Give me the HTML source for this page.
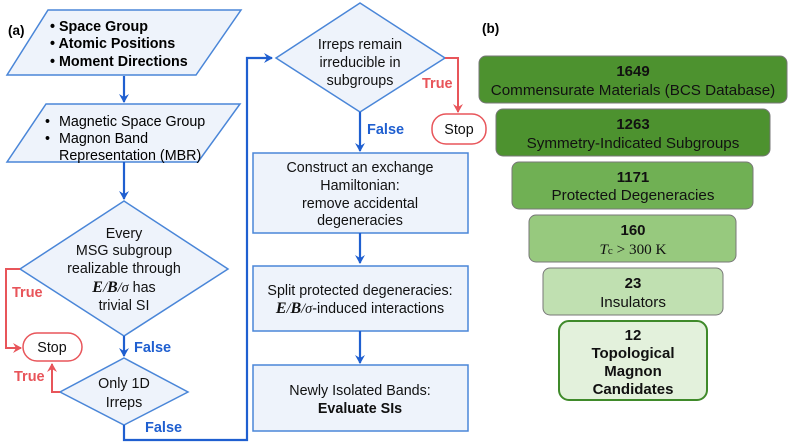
<!DOCTYPE html>
<html><head><meta charset="utf-8"><style>
html,body{margin:0;padding:0;background:#fff;}
svg{display:block;font-family:"Liberation Sans",sans-serif;}
.b{fill:#eef3fb;stroke:#4a86d8;stroke-width:1.5;}
.t{font-size:14.3px;fill:#111;text-anchor:middle;}
.ln{fill:none;stroke:#1f5fd0;stroke-width:2.2;}
.rl{fill:none;stroke:#e8555a;stroke-width:2;}
.bl{font-weight:bold;fill:#1f5fd0;font-size:14.5px;}
.rd{font-weight:bold;fill:#e8555a;font-size:14.5px;}
.g{font-size:15.2px;fill:#111;text-anchor:middle;}
.gb{font-size:15px;fill:#111;text-anchor:middle;font-weight:bold;}
</style></head><body>
<svg width="789" height="444" viewBox="0 0 789 444">
<defs>
<marker id="ab" markerWidth="10" markerHeight="10" refX="8" refY="5" orient="auto" markerUnits="userSpaceOnUse"><path d="M0,0 L9,5 L0,10 L3,5 z" fill="#1f5fd0"/></marker>
<marker id="ar" markerWidth="10" markerHeight="10" refX="8" refY="5" orient="auto" markerUnits="userSpaceOnUse"><path d="M0,0 L9,5 L0,10 L3,5 z" fill="#e8555a"/></marker>
</defs>
<text x="8" y="35" font-weight="bold" font-size="13.5">(a)</text>
<polygon class="b" points="48,10 241,10 196,75 7,75"/>
<text x="50" y="31" font-size="14.3" font-weight="bold">• Space Group</text>
<text x="50" y="48" font-size="14.3" font-weight="bold">• Atomic Positions</text>
<text x="50" y="66" font-size="14.3" font-weight="bold">• Moment Directions</text>
<line class="ln" x1="124" y1="76" x2="124" y2="102" marker-end="url(#ab)"/>
<polygon class="b" points="46,104 240,104 198,162 7,162"/>
<text x="45" y="126" font-size="14.3">•</text><text x="59" y="126" font-size="14.3">Magnetic Space Group</text>
<text x="45" y="143" font-size="14.3">•</text><text x="59" y="143" font-size="14.3">Magnon Band</text>
<text x="59" y="160" font-size="14.3">Representation (MBR)</text>
<line class="ln" x1="124" y1="162" x2="124" y2="199" marker-end="url(#ab)"/>
<polygon class="b" points="124,201 228,269 124,336 20,269"/>
<text class="t" x="124" y="238">Every</text>
<text class="t" x="124" y="255">MSG subgroup</text>
<text class="t" x="124" y="273">realizable through</text>
<text class="t" x="124" y="292"><tspan font-family="Liberation Serif" font-style="italic" font-weight="bold" font-size="16">E</tspan><tspan font-family="Liberation Serif" font-style="italic">/</tspan><tspan font-family="Liberation Serif" font-style="italic" font-weight="bold" font-size="16">B</tspan><tspan font-family="Liberation Serif" font-style="italic">/σ</tspan> has</text>
<text class="t" x="124" y="310">trivial SI</text>
<polyline class="rl" points="20,269 6,269 6,348 21,348" marker-end="url(#ar)"/>
<text class="rd" x="12" y="297">True</text>
<rect x="23" y="333" width="59" height="28" rx="14" fill="#fff" stroke="#e8555a" stroke-width="1.5"/>
<text class="t" x="52" y="352">Stop</text>
<line class="ln" x1="124" y1="336" x2="124" y2="356" marker-end="url(#ab)"/>
<text class="bl" x="134" y="352">False</text>
<polygon class="b" points="124,358 188,392 124,425 60,392"/>
<text class="t" x="124" y="388">Only 1D</text>
<text class="t" x="124" y="407">Irreps</text>
<polyline class="rl" points="60,392 52,392 52,364" marker-end="url(#ar)"/>
<text class="rd" x="14" y="381">True</text>
<polyline class="ln" points="124,425 124,440 247,440 247,58 272,58" marker-end="url(#ab)"/>
<text class="bl" x="145" y="432">False</text>
<polygon class="b" points="360,3 445,58 360,112 276,58"/>
<text class="t" x="360" y="49">Irreps remain</text>
<text class="t" x="360" y="67">irreducible in</text>
<text class="t" x="360" y="85">subgroups</text>
<polyline class="rl" points="445,58 458,58 458,112" marker-end="url(#ar)"/>
<text class="rd" x="422" y="88">True</text>
<rect x="432" y="114" width="54" height="30" rx="14" fill="#fff" stroke="#e8555a" stroke-width="1.5"/>
<text class="t" x="459" y="134">Stop</text>
<line class="ln" x1="360" y1="112" x2="360" y2="151" marker-end="url(#ab)"/>
<text class="bl" x="367" y="134">False</text>
<rect class="b" x="253" y="153" width="215" height="80"/>
<text class="t" x="360" y="172">Construct an exchange</text>
<text class="t" x="360" y="190">Hamiltonian:</text>
<text class="t" x="360" y="208">remove accidental</text>
<text class="t" x="360" y="225">degeneracies</text>
<line class="ln" x1="360" y1="233" x2="360" y2="263" marker-end="url(#ab)"/>
<rect class="b" x="253" y="266" width="215" height="65"/>
<text class="t" x="360" y="295">Split protected degeneracies:</text>
<text class="t" x="360" y="313"><tspan font-family="Liberation Serif" font-style="italic" font-weight="bold" font-size="16">E</tspan><tspan font-family="Liberation Serif" font-style="italic">/</tspan><tspan font-family="Liberation Serif" font-style="italic" font-weight="bold" font-size="16">B</tspan><tspan font-family="Liberation Serif" font-style="italic">/σ</tspan>-induced interactions</text>
<line class="ln" x1="360" y1="331" x2="360" y2="363" marker-end="url(#ab)"/>
<rect class="b" x="253" y="365" width="215" height="66"/>
<text class="t" x="360" y="395">Newly Isolated Bands:</text>
<text class="t" x="360" y="413" font-weight="bold">Evaluate SIs</text>

<text x="482" y="33" font-weight="bold" font-size="13.5">(b)</text>
<rect x="479" y="56" width="308" height="47" rx="7" fill="#4d922f" stroke="#777" stroke-width="1"/>
<text class="gb" x="633" y="76">1649</text><text class="g" x="633" y="95">Commensurate Materials (BCS Database)</text>
<rect x="496" y="109" width="274" height="47" rx="7" fill="#4d922f" stroke="#777" stroke-width="1"/>
<text class="gb" x="633" y="129">1263</text><text class="g" x="633" y="148">Symmetry-Indicated Subgroups</text>
<rect x="512" y="162" width="241" height="47" rx="7" fill="#70b054" stroke="#777" stroke-width="1"/>
<text class="gb" x="633" y="182">1171</text><text class="g" x="633" y="200">Protected Degeneracies</text>
<rect x="529" y="215" width="207" height="47" rx="7" fill="#97c97e" stroke="#777" stroke-width="1"/>
<text class="gb" x="633" y="235">160</text><text class="g" x="633" y="254" font-family="Liberation Serif" font-size="16"><tspan font-style="italic">T</tspan><tspan font-size="11">c</tspan> &gt; 300 K</text>
<rect x="543" y="268" width="180" height="47" rx="7" fill="#c0e0b1" stroke="#777" stroke-width="1"/>
<text class="gb" x="633" y="288">23</text><text class="g" x="633" y="307">Insulators</text>
<rect x="559" y="321" width="148" height="79" rx="10" fill="#e3f1dc" stroke="#3f8a2a" stroke-width="2"/>
<text class="gb" x="633" y="340">12</text>
<text class="gb" x="633" y="358">Topological</text>
<text class="gb" x="633" y="376">Magnon</text>
<text class="gb" x="633" y="394">Candidates</text>
</svg>
</body></html>
